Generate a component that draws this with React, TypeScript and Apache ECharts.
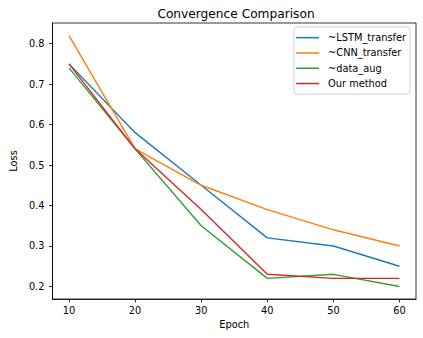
import React, { useEffect, useRef } from "react";
import * as echarts from "echarts";

const epochs = [10, 20, 30, 40, 50, 60];
const lstmTransfer = [0.75, 0.58, 0.45, 0.32, 0.30, 0.25];
const cnnTransfer = [0.82, 0.54, 0.45, 0.39, 0.34, 0.30];
const dataAug = [0.74, 0.54, 0.35, 0.22, 0.23, 0.20];
const ourMethod = [0.75, 0.54, 0.39, 0.23, 0.22, 0.22];
const xTicks = [10, 20, 30, 40, 50, 60];
const yTicks = [0.2, 0.3, 0.4, 0.5, 0.6, 0.7, 0.8];
const seriesNames = ["~LSTM_transfer", "~CNN_transfer", "~data_aug", "Our method"];
const colors = ["#1f77b4", "#ff7f0e", "#2ca02c", "#d62728"];

const FONT = "DejaVu Sans";
const FS = 9.8;

export default function App() {
  const ref = useRef<HTMLDivElement>(null);
  useEffect(() => {
    if (!ref.current) return;
    const chart = echarts.init(ref.current, null, { renderer: "svg" });
    const all = [lstmTransfer, cnnTransfer, dataAug, ourMethod];
    chart.setOption({
      animation: false,
      backgroundColor: "#fff",
      title: {
        text: "Convergence Comparison",
        left: 231,
        textAlign: "center",
        top: 3,
        textStyle: { fontFamily: FONT, fontSize: 12.2, fontWeight: "normal", color: "#000" },
      },
      grid: {
        left: 46,
        top: 23,
        right: 7,
        bottom: 39,
        show: true,
        borderColor: "#000",
        borderWidth: 0.8,
        backgroundColor: "transparent",
      },
      legend: {
        orient: "vertical",
        right: 13,
        top: 27,
        data: seriesNames,
        icon: "rect",
        itemWidth: 23,
        itemHeight: 1.5,
        itemGap: 0,
        padding: [3, 4, 3, 2],
        borderColor: "#d0d0d0",
        borderWidth: 1,
        borderRadius: 3,
        backgroundColor: "rgba(255,255,255,0.8)",
        textStyle: { fontFamily: FONT, fontSize: FS, color: "#000", lineHeight: 15.3, padding: [0, 0, 0, 4] },
      },
      xAxis: {
        type: "value",
        min: 7.5,
        max: 62.5,
        name: "Epoch",
        nameLocation: "middle",
        nameGap: 20,
        nameTextStyle: { fontFamily: FONT, fontSize: FS, color: "#000" },
        axisLine: { show: true, lineStyle: { color: "#000", width: 0.8 } },
        axisTick: { show: true, length: 3.5, customValues: xTicks, lineStyle: { color: "#000", width: 0.8 } },
        axisLabel: { customValues: xTicks, margin: 6, fontFamily: FONT, fontSize: FS, color: "#000" },
        splitLine: { show: false },
      },
      yAxis: {
        type: "value",
        min: 0.169,
        max: 0.851,
        name: "Loss",
        nameLocation: "middle",
        nameGap: 33,
        nameTextStyle: { fontFamily: FONT, fontSize: FS, color: "#000" },
        axisLine: { show: true, lineStyle: { color: "#000", width: 0.8 } },
        axisTick: { show: true, length: 3.5, customValues: yTicks, lineStyle: { color: "#000", width: 0.8 } },
        axisLabel: {
          customValues: yTicks,
          margin: 8,
          fontFamily: FONT,
          fontSize: FS,
          color: "#000",
          formatter: (v: number) => v.toFixed(1),
        },
        splitLine: { show: false },
      },
      series: seriesNames.map((name, i) => ({
        name,
        type: "line",
        data: epochs.map((e, j) => [e, all[i][j]]),
        showSymbol: false,
        symbol: "none",
        lineStyle: { color: colors[i], width: 1.4 },
        itemStyle: { color: colors[i] },
      })),
    });
    return () => chart.dispose();
  }, []);
  return <div ref={ref} style={{ width: 423, height: 338, position: "absolute", left: 0, top: 0 }} />;
}
